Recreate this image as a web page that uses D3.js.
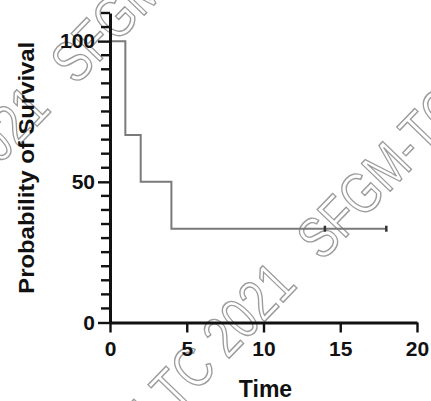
<!DOCTYPE html>
<html><head><meta charset="utf-8">
<script src="https://cdn.jsdelivr.net/npm/d3@7"></script>
<style>html,body{margin:0;padding:0;background:#fff;overflow:hidden;}</style>
</head><body><svg id="c" width="431" height="401"></svg>
<script>
// ---- data ----
const times = [0, 1, 2, 4, 18];
const survival = [100, 66.67, 50, 33.33, 33.33];
const censorTimes = [14, 18];
const censorSurvival = [33.33, 33.33];
const xTicks = [0, 5, 10, 15, 20];
const yTicks = [0, 50, 100];
const yMinorTicks = [5,10,15,20,25,30,35,40,45,55,60,65,70,75,80,85,90,95,105,110];
const xLabel = "Time";
const yLabel = "Probability of Survival";
const watermarkText = "SFGM-TC 2021";

// ---- layout ----
const svg = d3.select("#c");
const x = d3.scaleLinear().domain([0, 20]).range([110, 417]);
const y = d3.scaleLinear().domain([0, 110]).range([322.5, 13]);
const font = "'Liberation Sans', Arial, sans-serif";

// watermark rows (decoration, drawn under the chart)
const rows = [[76, 86], [322, 262]];
const period = 358;
rows.forEach(([ax, ay]) => {
  const g = svg.append("g").attr("transform", `translate(${ax},${ay}) rotate(-46)`);
  [-2, -1, 0, 1].forEach(k => {
    g.append("text")
      .attr("x", k * period).attr("y", 0)
      .attr("textLength", 324).attr("lengthAdjust", "spacingAndGlyphs")
      .attr("font-family", "'Liberation Sans Narrow', 'Liberation Sans', sans-serif")
      .attr("font-size", 58)
      .attr("fill", "none").attr("stroke", "#9c9c9c").attr("stroke-width", 1.5)
      .text(watermarkText);
  });
});

// survival curve
const pts = times.map((t, i) => [t, survival[i]]);
svg.append("path")
  .datum(pts)
  .attr("fill", "none")
  .attr("stroke", "#7a7a7a")
  .attr("stroke-width", 2)
  .attr("d", d3.line().x(d => x(d[0])).y(d => y(d[1])).curve(d3.curveStepAfter));

// censor marks
svg.append("g").selectAll("line")
  .data(censorTimes.map((t, i) => [t, censorSurvival[i]]))
  .join("line")
  .attr("x1", d => x(d[0])).attr("x2", d => x(d[0]))
  .attr("y1", d => y(d[1]) - 3).attr("y2", d => y(d[1]) + 3)
  .attr("stroke", "#333").attr("stroke-width", 2.5);

// y axis
const gy = svg.append("g").attr("transform", `translate(${x(0)},0)`)
  .call(d3.axisLeft(y).tickValues(yTicks).tickSize(12).tickSizeOuter(0).tickPadding(3));
gy.select(".domain").attr("stroke", "#111").attr("stroke-width", 3);
gy.selectAll(".tick line").attr("stroke", "#111").attr("stroke-width", 2.4);
gy.selectAll("text").attr("font-family", font).attr("font-weight", "bold")
  .attr("font-size", 21).attr("fill", "#111");

// x axis
const gx = svg.append("g").attr("transform", `translate(0,${y(0)})`)
  .call(d3.axisBottom(x).tickValues(xTicks).tickSize(10).tickSizeOuter(0).tickPadding(9));
gx.select(".domain").attr("stroke", "#111").attr("stroke-width", 3);
gx.selectAll(".tick line").attr("stroke", "#111").attr("stroke-width", 2.4);
gx.selectAll("text").attr("font-family", font).attr("font-weight", "bold")
  .attr("font-size", 21).attr("fill", "#111");

// y minor ticks (on top), one rect per tick
svg.append("g").selectAll("rect")
  .data(yMinorTicks)
  .join("rect")
  .attr("x", x(0) - 9).attr("y", d => y(d) - 1.2)
  .attr("width", 9).attr("height", 2.4)
  .attr("fill", "#111");

// axis titles
svg.append("text")
  .attr("x", (x(0) + x(20)) / 2 + 2).attr("y", 397)
  .attr("text-anchor", "middle")
  .attr("font-family", font).attr("font-weight", "bold").attr("font-size", 23)
  .attr("fill", "#111").text(xLabel);

svg.append("text")
  .attr("transform", `translate(34,${(y(0) + y(110)) / 2}) rotate(-90)`)
  .attr("text-anchor", "middle")
  .attr("textLength", 252).attr("lengthAdjust", "spacingAndGlyphs")
  .attr("font-family", font).attr("font-weight", "bold").attr("font-size", 22)
  .attr("fill", "#111").text(yLabel);
</script></body></html>
